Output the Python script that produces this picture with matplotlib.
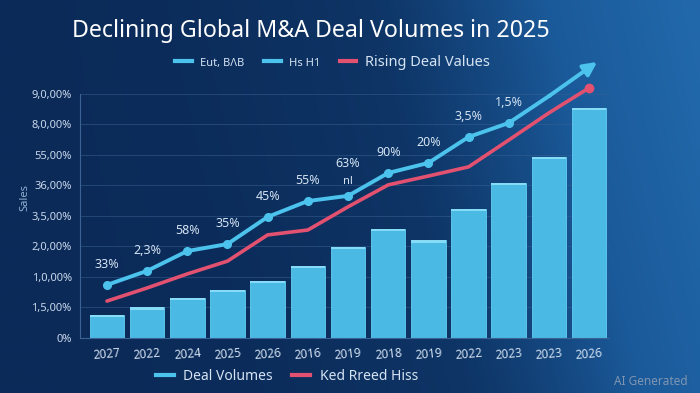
import numpy as np
import matplotlib
matplotlib.use("Agg")
import matplotlib.pyplot as plt
from matplotlib.colors import LinearSegmentedColormap
from matplotlib.lines import Line2D

plt.rcParams['font.family'] = ['Noto Sans', 'DejaVu Sans']

# data (y in tick units, tick i = label i)
years = ['2027', '2022', '2024', '2025', '2026', '2016', '2019',
         '2018', '2019', '2022', '2023', '2023', '2026']
ytick_labels = ['0%', '1,5,00%', '1,0,00%', '2,0,00%', '3,5,00%',
                '36,00%', '55,00%', '8,0,00%', '9,0,00%']
volumes = [0.75, 1.0, 1.3, 1.57, 1.87, 2.36, 2.98, 3.57, 3.2, 4.23, 5.08, 5.93, 7.54]
blue_line = [1.74, 2.20, 2.85, 3.08, 3.97, 4.49, 4.66, 5.41, 5.74, 6.59, 7.05, 7.93, 8.85]
red_line = [1.21, 1.64, 2.10, 2.52, 3.38, 3.54, 4.30, 5.02, 5.31, 5.61, 6.49, 7.38, 8.20]
pct_labels = ['33%', '2,3%', '58%', '35%', '45%', '55%', '63%',
              '90%', '20%', '3,5%', '1,5%']

fig = plt.figure(figsize=(7, 3.93), dpi=100)

# background gradient
bg = fig.add_axes([0, 0, 1, 1], zorder=-10)
xx, yy = np.meshgrid(np.linspace(0, 1, 300), np.linspace(0, 1, 200))
t = 0.8 * xx ** 2.2 + 0.25 * (1 - yy) * xx
cmap = LinearSegmentedColormap.from_list('bg', ['#0b2a58', '#0e3566', '#1b5a9a', '#2168aa'])
bg.imshow(t, cmap=cmap, aspect='auto', extent=[0, 1, 0, 1], origin='upper', vmin=0, vmax=1)
bg.axis('off')

ax = fig.add_axes([0.1143, 0.14, 0.756, 0.714])
ax.patch.set_alpha(0)
x = np.arange(len(years))

# bars with a lighter top face
ax.bar(x, volumes, width=0.86, color='#4ab9e3', edgecolor='#62cff3', linewidth=0.6, zorder=2)
ax.bar(x, [0.07] * len(x), bottom=np.array(volumes) - 0.07, width=0.86,
       color='#86dcf7', linewidth=0, zorder=3)

# lines
ax.plot(x, red_line, color='#e2516f', lw=2.6, zorder=4, solid_capstyle='round')
ax.plot(x[-1], red_line[-1], 'o', color='#e2516f', ms=6, zorder=4)
ax.plot(x[:-1], blue_line[:-1], color='#4cc3ec', lw=2.8, zorder=5,
        marker='o', ms=5.5, markevery=list(range(len(pct_labels))))
ax.annotate('', xy=(x[-1] + 0.2, blue_line[-1] + 0.2), xytext=(x[-2], blue_line[-2]),
            arrowprops=dict(arrowstyle='-|>', color='#4cc3ec', lw=2.8,
                            mutation_scale=20, shrinkA=0, shrinkB=0), zorder=5)

for i, lab in enumerate(pct_labels):
    off = 0.85 if i == 6 else 0.45
    ax.text(x[i], blue_line[i] + off, lab, ha='center', va='bottom',
            color='#d5e3f3', fontsize=9)
ax.text(x[6], blue_line[6] + 0.3, 'nl', ha='center', va='bottom', color='#d5e3f3', fontsize=8)

ax.set_xlim(-0.67, 12.5)
ax.set_ylim(0, 9.2)
ax.set_yticks(range(len(ytick_labels)))
ax.set_yticklabels(ytick_labels, color='#c9d8ec', fontsize=8)
ax.set_xticks(x)
ax.set_xticklabels(years, color='#d2e0f0', fontsize=8.5, rotation=5)
ax.tick_params(length=0, pad=6)
ax.grid(axis='y', color='#3a6294', lw=0.7, alpha=0.5, zorder=0)
ax.set_axisbelow(True)
for s in ['top', 'right']:
    ax.spines[s].set_visible(False)
ax.spines['left'].set_bounds(0, 8)
ax.spines['left'].set_color('#3a6294')
ax.spines['bottom'].set_color('#3a6294')
ax.set_ylabel('Sales', color='#8fb0d2', fontsize=8, labelpad=1)

fig.text(0.103, 0.922, 'Declining Global M&A Deal Volumes in 2025',
         color='white', fontsize=16.7, va='center', ha='left')

handles = [Line2D([], [], color='#4cc3ec', lw=3),
           Line2D([], [], color='#4cc3ec', lw=3),
           Line2D([], [], color='#e2516f', lw=3)]
leg = fig.legend(handles, ['Eut, BΛB', 'Hs H1', 'Rising Deal Values'],
                 loc='center', bbox_to_anchor=(0.475, 0.842), ncol=3, frameon=False,
                 handlelength=1.2, columnspacing=1.4, handletextpad=0.6)
for txt, fs in zip(leg.get_texts(), [8, 8, 10.5]):
    txt.set_color('#d5e3f3')
    txt.set_fontsize(fs)

handles2 = [Line2D([], [], color='#4cc3ec', lw=3), Line2D([], [], color='#e2516f', lw=3)]
leg2 = fig.legend(handles2, ['Deal Volumes', 'Ked Rreed Hiss'],
                  loc='center', bbox_to_anchor=(0.41, 0.043), ncol=2, frameon=False,
                  handlelength=1.3, columnspacing=1.4, handletextpad=0.7, fontsize=10)
for txt in leg2.get_texts():
    txt.set_color('#d5e3f3')

fig.text(0.93, 0.03, 'AI Generated', color='#7f95b0', fontsize=8.5, ha='center', va='center')

fig.savefig('out.png', dpi=100)
